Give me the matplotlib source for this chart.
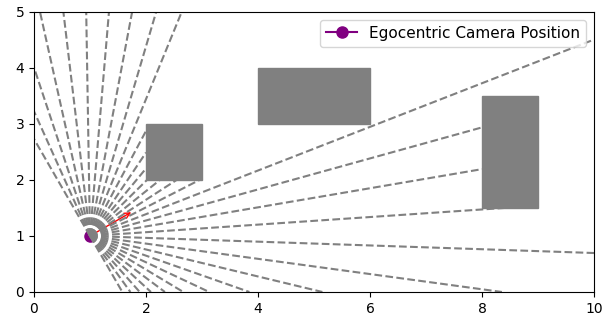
import numpy as np
import matplotlib
matplotlib.use("Agg")
import matplotlib.pyplot as plt
import matplotlib.patches as patches

# Scene data
camera_pos = (1.0, 1.0)
heading_deg = 30.0
fov_deg = 180.0
num_rays = 32
arrow_len = 0.9

# obstacles: lower-left x, y, width, height
obs_x = [2, 4, 8]
obs_y = [2, 3, 1.5]
obs_w = [1, 2, 1]
obs_h = [1, 1, 2]

x_lim = (0, 10)
y_lim = (0, 5)


def ray_hit(px, py, dx, dy):
    # distance to the world border
    ts = []
    for lo, hi, p, d in ((x_lim[0], x_lim[1], px, dx), (y_lim[0], y_lim[1], py, dy)):
        if abs(d) > 1e-12:
            for b in (lo, hi):
                t = (b - p) / d
                if t > 1e-9:
                    ts.append(t)
    t_best = min(ts)
    # slab test against every obstacle
    for ox, oy, ow, oh in zip(obs_x, obs_y, obs_w, obs_h):
        tmin, tmax = -np.inf, np.inf
        ok = True
        for lo, hi, p, d in ((ox, ox + ow, px, dx), (oy, oy + oh, py, dy)):
            if abs(d) < 1e-12:
                if p < lo or p > hi:
                    ok = False
            else:
                t1, t2 = (lo - p) / d, (hi - p) / d
                tmin = max(tmin, min(t1, t2))
                tmax = min(tmax, max(t1, t2))
        if ok and tmax >= tmin and tmin > 0:
            t_best = min(t_best, tmin)
    return px + t_best * dx, py + t_best * dy


fig, ax = plt.subplots(figsize=(6.1, 3.18), dpi=100)
fig.subplots_adjust(left=0.0557, right=0.9738, bottom=0.0818, top=0.9623)

for ox, oy, ow, oh in zip(obs_x, obs_y, obs_w, obs_h):
    ax.add_patch(patches.Rectangle((ox, oy), ow, oh, color='gray'))

ax.plot([camera_pos[0]], [camera_pos[1]], 'o-', color='purple', markersize=8,
        label='Egocentric Camera Position')

h = np.deg2rad(heading_deg)
ax.annotate('', xy=(camera_pos[0] + arrow_len * np.cos(h), camera_pos[1] + arrow_len * np.sin(h)),
            xytext=camera_pos, arrowprops=dict(arrowstyle='->', color='red'), zorder=1)

angles = np.linspace(h - np.deg2rad(fov_deg) / 2, h + np.deg2rad(fov_deg) / 2, num_rays)
for a in angles:
    ex, ey = ray_hit(camera_pos[0], camera_pos[1], np.cos(a), np.sin(a))
    ax.plot([camera_pos[0], ex], [camera_pos[1], ey], '--', color='gray', linewidth=1.5)

ax.set_xlim(*x_lim)
ax.set_ylim(*y_lim)
ax.set_aspect('equal')
ax.legend(loc='upper right', fontsize=11)

plt.savefig('out.png')
